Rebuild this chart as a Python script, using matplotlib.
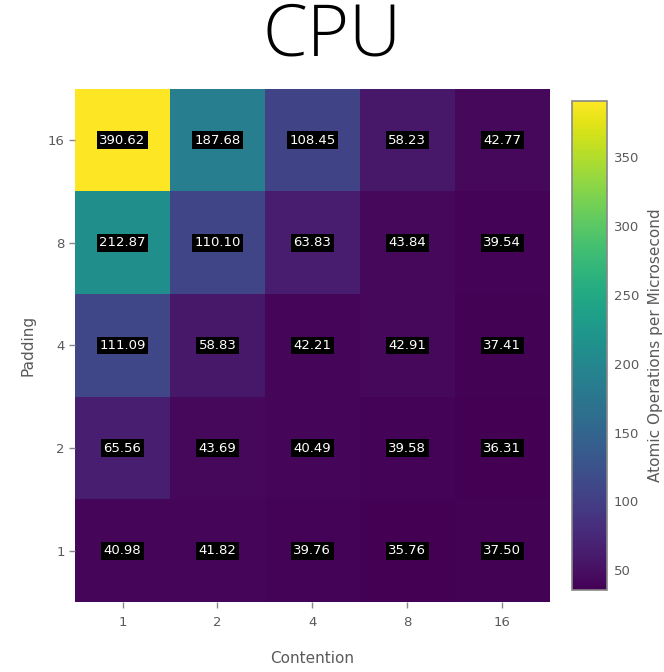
import numpy as np
import matplotlib
matplotlib.use('Agg')
import matplotlib.pyplot as plt

contention = ['1', '2', '4', '8', '16']
padding = ['1', '2', '4', '8', '16']
# rows: padding 1 -> 16 (bottom to top), columns: contention 1 -> 16
ops = np.array([
    [40.98, 41.82, 39.76, 35.76, 37.50],
    [65.56, 43.69, 40.49, 39.58, 36.31],
    [111.09, 58.83, 42.21, 42.91, 37.41],
    [212.87, 110.10, 63.83, 43.84, 39.54],
    [390.62, 187.68, 108.45, 58.23, 42.77],
])
cbar_ticks = [50, 100, 150, 200, 250, 300, 350]

grey = '#5a5a5a'
fig = plt.figure(figsize=(6.64, 6.72), dpi=100)
ax = fig.add_axes([0.113, 0.104, 0.715, 0.764])
cax = fig.add_axes([0.861, 0.122, 0.053, 0.728])

im = ax.imshow(ops, cmap='viridis', origin='lower', aspect='auto',
               vmin=ops.min(), vmax=ops.max())
for i in range(ops.shape[0]):
    for j in range(ops.shape[1]):
        ax.text(j, i, '%.2f' % ops[i, j], ha='center', va='center',
                color='white', fontsize=9.5, fontweight='medium',
                bbox=dict(boxstyle='square,pad=0.18', fc='black', ec='none'))

ax.set_xticks(range(len(contention)))
ax.set_xticklabels(contention)
ax.set_yticks(range(len(padding)))
ax.set_yticklabels(padding)
ax.tick_params(axis='both', colors='#888888', labelcolor=grey, labelsize=9.5,
               length=4, width=1)
ax.tick_params(axis='x', pad=6)
for s in ax.spines.values():
    s.set_visible(False)
ax.set_xlabel('Contention', color=grey, fontsize=11, labelpad=16)
ax.set_ylabel('Padding', color=grey, fontsize=11, labelpad=9)

cb = fig.colorbar(im, cax=cax, ticks=cbar_ticks)
cb.outline.set_edgecolor('#888888')
cb.outline.set_linewidth(1.2)
cax.tick_params(length=0, labelsize=9.5, labelcolor=grey, pad=5)
cb.set_label('Atomic Operations per Microsecond', color=grey, fontsize=11, labelpad=6)

fig.text(0.5, 0.946, 'CPU', ha='center', va='center', fontsize=52,
         family='Open Sans', fontweight='light', color='black')

fig.savefig('out.png', dpi=100)
